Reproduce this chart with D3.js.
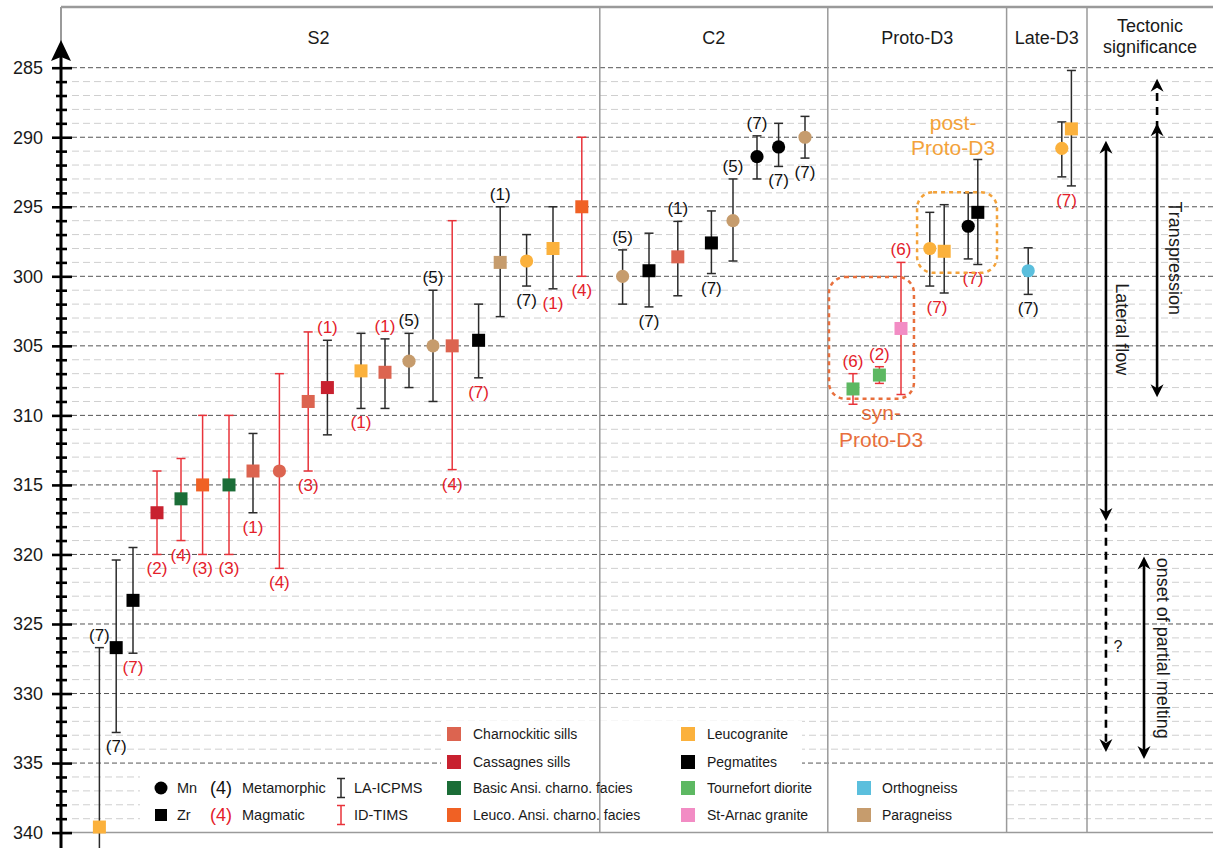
<!DOCTYPE html>
<html><head><meta charset="utf-8">
<script src="https://cdn.jsdelivr.net/npm/d3@7"></script>
<style>
html,body{margin:0;padding:0;background:#fff;}
svg{display:block;font-family:"Liberation Sans",Arial,Helvetica,sans-serif;}
</style>
</head><body>
<svg id="chart" width="1213" height="848"></svg>
<script>
// ---------------- DATA ----------------
const groupNames = ["S2", "C2", "Proto-D3", "Late-D3"];
const groupEdges = [0, 22.45, 31.95, 39.4, 42.75];   // sample-slot boundaries
const tectonicTitle = ["Tectonic", "significance"];
const ageTicks = [285, 290, 295, 300, 305, 310, 315, 320, 325, 330, 335, 340];

// one entry per analysed sample (left to right)
const sampleSlot = [1.6, 2.3, 3.0, 4.0, 5.0, 5.9, 7.0, 8.0, 9.1, 10.3, 11.1, 12.5, 13.5, 14.5, 15.5, 16.3, 17.4, 18.3, 19.4, 20.5, 21.7,
  23.4, 24.5, 25.7, 27.1, 28.0, 29.0, 29.9, 31.0,
  33.0, 34.1, 35.0, 36.2, 36.8, 37.8, 38.2,
  40.3, 41.7, 42.1];
const sampleRock = ["Leucogranite", "Pegmatites", "Pegmatites", "Cassagnes sills", "Basic Ansi. charno. facies", "Leuco. Ansi. charno. facies",
  "Basic Ansi. charno. facies", "Charnockitic sills", "Charnockitic sills", "Charnockitic sills", "Cassagnes sills", "Leucogranite",
  "Charnockitic sills", "Paragneiss", "Paragneiss", "Charnockitic sills", "Pegmatites", "Paragneiss", "Leucogranite", "Leucogranite",
  "Leuco. Ansi. charno. facies",
  "Paragneiss", "Pegmatites", "Charnockitic sills", "Pegmatites", "Paragneiss", "Pegmatites", "Pegmatites", "Paragneiss",
  "Tournefort diorite", "Tournefort diorite", "St-Arnac granite", "Leucogranite", "Leucogranite", "Pegmatites", "Pegmatites",
  "Orthogneiss", "Leucogranite", "Leucogranite"];
const sampleMineral = ["Zr", "Zr", "Zr", "Zr", "Zr", "Zr", "Zr", "Zr", "Mn", "Zr", "Zr", "Zr", "Zr", "Mn", "Mn", "Zr", "Zr", "Zr", "Mn", "Zr", "Zr",
  "Mn", "Zr", "Zr", "Zr", "Mn", "Mn", "Mn", "Mn",
  "Zr", "Zr", "Zr", "Mn", "Zr", "Mn", "Zr",
  "Mn", "Mn", "Zr"];
const sampleAge = [339.6, 326.7, 323.3, 317.0, 316.0, 315.0, 315.0, 314.0, 314.0, 309.0, 308.0, 306.8, 306.9, 306.1, 305.0, 305.0, 304.6, 299.0, 298.9, 298.0, 295.0,
  300.0, 299.6, 298.6, 297.6, 296.0, 291.4, 290.7, 290.0,
  308.1, 307.1, 303.75, 298.0, 298.2, 296.4, 295.4,
  299.6, 290.8, 289.4];
const ageYoungBound = [326.7, 320.4, 319.5, 314.0, 313.1, 310.0, 310.0, 311.3, 307.0, 304.0, 304.6, 304.1, 304.5, 304.1, 301.0, 296.0, 302.0, 295.0, 297.0, 295.0, 290.0,
  298.1, 296.9, 296.05, 295.3, 293.0, 289.9, 289.0, 288.5,
  307.0, 306.5, 299.0, 295.4, 294.85, 294.0, 291.6,
  297.95, 288.9, 285.2];
const ageOldBound = [353.0, 332.8, 327.1, 320.0, 319.0, 320.0, 320.0, 317.0, 321.0, 314.0, 311.4, 309.5, 309.5, 308.0, 309.0, 313.9, 307.3, 302.9, 300.7, 300.9, 300.0,
  302.0, 302.2, 301.4, 299.8, 298.9, 293.0, 292.1, 291.5,
  309.2, 307.7, 308.5, 300.7, 301.2, 298.75, 299.15,
  301.3, 292.85, 293.5];
const sampleMethod = ["LA", "LA", "LA", "TIMS", "TIMS", "TIMS", "TIMS", "LA", "TIMS", "TIMS", "LA", "LA", "LA", "LA", "LA", "TIMS", "LA", "LA", "LA", "LA", "TIMS",
  "LA", "LA", "LA", "LA", "LA", "LA", "LA", "LA",
  "TIMS", "TIMS", "TIMS", "LA", "LA", "LA", "LA",
  "LA", "LA", "LA"];
const sampleRef = [7, 7, 7, 2, 4, 3, 3, 1, 4, 3, 1, 1, 1, 5, 5, 4, 7, 1, 7, 1, 4,
  5, 7, 1, 7, 5, 7, 7, 7,
  6, 2, 6, null, 7, null, 7,
  7, null, 7];
const sampleRefKind = ["meta", "meta", "mag", "mag", "mag", "mag", "mag", "mag", "mag", "mag", "mag", "mag", "mag", "meta", "meta", "mag", "mag", "meta", "meta", "mag", "mag",
  "meta", "meta", "meta", "meta", "meta", "meta", "meta", "meta",
  "mag", "mag", "mag", null, "mag", null, "mag",
  "meta", null, "mag"];
const sampleRefSide = ["above", "below", "below", "below", "below", "below", "below", "below", "below", "below", "above", "below", "above", "above", "above", "below", "below", "above", "below", "below", "below",
  "above", "below", "above", "below", "above", "above", "below", "below",
  "above", "above", "above", null, "pair", null, "pair",
  "below", null, "pair"];

// phase annotations (data units: slot / age)
const phaseBoxes = [
  {lines: ["post-", "Proto-D3"], slot0: 35.67, slot1: 39.0, age0: 293.95, age1: 299.75, textSlot: 37.17, textAge: [289.5, 291.3], kind: "post"},
  {lines: ["syn-", "Proto-D3"], slot0: 32.0, slot1: 35.54, age0: 300.05, age1: 308.8, textSlot: 34.17, textAge: [310.35, 312.25], kind: "syn"}
];

// tectonic significance column
const tectArrows = [
  {slot: 43.54, from: 290.25, to: 317.6, dashed: false, heads: ["from", "to"]},
  {slot: 43.54, from: 317.8, to: 334.2, dashed: true, heads: ["to"]},
  {slot: 45.67, from: 289.4, to: 285.8, dashed: true, heads: ["to"]},
  {slot: 45.67, from: 289.0, to: 308.7, dashed: false, heads: ["from", "to"]},
  {slot: 45.125, from: 320.15, to: 334.7, dashed: false, heads: ["from", "to"]}
];
const tectTexts = [
  {text: "Lateral flow", slot: 44.19, age: 303.8},
  {text: "Transpression", slot: 46.4, age: 298.7},
  {text: "onset of partial melting", slot: 45.92, age: 326.75}
];
const tectQuestion = {text: "?", slot: 43.85, age: 327.0};

// legend content
const legendCol1 = ["Charnockitic sills", "Cassagnes sills", "Basic Ansi. charno. facies", "Leuco. Ansi. charno. facies"];
const legendCol2 = ["Leucogranite", "Pegmatites", "Tournefort diorite", "St-Arnac granite"];
const legendCol3 = ["Orthogneiss", "Paragneiss"];
const legendMinerals = ["Mn", "Zr"];
const legendRefKinds = ["Metamorphic", "Magmatic"];
const legendMethods = ["LA-ICPMS", "ID-TIMS"];

// ---------------- STYLES ----------------
const rockColor = {
  "Charnockitic sills": "#dc6450",
  "Cassagnes sills": "#c8212f",
  "Basic Ansi. charno. facies": "#1b6d37",
  "Leuco. Ansi. charno. facies": "#f06124",
  "Leucogranite": "#fbb13c",
  "Pegmatites": "#000000",
  "Tournefort diorite": "#5db862",
  "St-Arnac granite": "#f28cc4",
  "Orthogneiss": "#5bbfdd",
  "Paragneiss": "#c69c6d"
};
const methodColor = {LA: "#2b2b2b", TIMS: "#e8333a"};
const refColor = {meta: "#111", mag: "#e4202a"};
const phaseColor = {post: "#f3a23a", syn: "#e86f3c"};

// ---------------- DRAW ----------------
const W = 1213, H = 848;
const svg = d3.select("#chart");
const x = d3.scaleLinear().domain([0, 48]).range([61, 1213]);
const y = d3.scaleLinear().domain([285, 340]).range([67.7, 832.6]);

svg.append("rect").attr("width", W).attr("height", H).attr("fill", "#fff");

// grid
const gridVals = d3.range(285, 340);
svg.append("g").selectAll("line").data(gridVals).join("line")
  .attr("x1", 72).attr("x2", W)
  .attr("y1", d => y(d)).attr("y2", d => y(d))
  .attr("stroke", d => d % 5 === 0 ? "#555" : "#cfcfcf")
  .attr("stroke-width", 1)
  .attr("stroke-dasharray", d => d % 5 === 0 ? "5,3" : "7,4");

// white legend backgrounds
const bg = svg.append("g").attr("fill", "#fff");
bg.append("rect").attr("x", 140).attr("y", y(335) + 4).attr("width", 301).attr("height", y(340) - y(335) - 4);
bg.append("rect").attr("x", 441).attr("y", 721).attr("width", 361).attr("height", y(340) - 721);
bg.append("rect").attr("x", 802).attr("y", y(335) + 4).attr("width", 203).attr("height", y(340) - y(335) - 4);

// frame and column separators
const frame = svg.append("g").attr("stroke", "#9a9a9a").attr("fill", "none");
frame.append("line").attr("x1", 61).attr("x2", W).attr("y1", 7).attr("y2", 7).attr("stroke-width", 2.5);
frame.append("line").attr("x1", 61).attr("x2", 61).attr("y1", 7).attr("y2", 42).attr("stroke-width", 2);
frame.append("line").attr("x1", 61).attr("x2", W).attr("y1", y(340)).attr("y2", y(340)).attr("stroke-width", 1.5);
frame.selectAll("line.sep").data(groupEdges.slice(1)).join("line").attr("class", "sep")
  .attr("x1", d => x(d)).attr("x2", d => x(d)).attr("y1", 7).attr("y2", y(340))
  .attr("stroke-width", 1.5);

// headers
const headers = svg.append("g").attr("font-size", 18).attr("fill", "#1a1a1a").attr("text-anchor", "middle");
headers.selectAll("text.h").data(groupNames).join("text").attr("class", "h")
  .attr("x", (d, i) => x((groupEdges[i] + groupEdges[i + 1]) / 2) - (i === 0 ? 12 : 0))
  .attr("y", 43.5).text(d => d);
headers.selectAll("text.t").data(tectonicTitle).join("text").attr("class", "t")
  .attr("x", x((groupEdges[4] + 48) / 2)).attr("y", (d, i) => 32 + i * 21).text(d => d);

// samples
const samples = sampleSlot.map((s, i) => ({
  i, slot: s, rock: sampleRock[i], mineral: sampleMineral[i], age: sampleAge[i],
  young: ageYoungBound[i], old: ageOldBound[i], method: sampleMethod[i],
  ref: sampleRef[i], kind: sampleRefKind[i], side: sampleRefSide[i]
}));

// error bars
const eb = svg.append("g").attr("fill", "none").attr("stroke-width", 1.5);
samples.forEach(d => {
  const g = eb.append("g").attr("stroke", methodColor[d.method]);
  const cx = x(d.slot);
  g.append("line").attr("x1", cx).attr("x2", cx).attr("y1", y(d.young)).attr("y2", y(d.old));
  [d.young, d.old].forEach(v => g.append("line").attr("x1", cx - 4.5).attr("x2", cx + 4.5).attr("y1", y(v)).attr("y2", y(v)));
});

// markers
const mk = svg.append("g");
const S = 13;
mk.selectAll("rect").data(samples.filter(d => d.mineral === "Zr")).join("rect")
  .attr("x", d => x(d.slot) - S / 2).attr("y", d => y(d.age) - S / 2)
  .attr("width", S).attr("height", S).attr("fill", d => rockColor[d.rock]);
mk.selectAll("circle").data(samples.filter(d => d.mineral === "Mn")).join("circle")
  .attr("cx", d => x(d.slot)).attr("cy", d => y(d.age)).attr("r", 6.6)
  .attr("fill", d => rockColor[d.rock]);

// reference labels
const lab = svg.append("g").attr("font-size", 17).attr("text-anchor", "middle");
samples.filter(d => d.ref !== null).forEach(d => {
  let lx = x(d.slot), ly;
  if (d.side === "above") ly = y(d.young) - 7;
  else ly = y(d.old) + 20;
  if (d.side === "pair") lx = (x(d.slot) + x(sampleSlot[d.i - 1])) / 2;
  lab.append("text").attr("x", lx).attr("y", ly).attr("fill", refColor[d.kind]).text(`(${d.ref})`);
});

// phase boxes
const pb = svg.append("g");
phaseBoxes.forEach(b => {
  pb.append("rect")
    .attr("x", x(b.slot0)).attr("y", y(b.age0))
    .attr("width", x(b.slot1) - x(b.slot0)).attr("height", y(b.age1) - y(b.age0))
    .attr("rx", 16).attr("ry", 16).attr("fill", "none")
    .attr("stroke", phaseColor[b.kind]).attr("stroke-width", 2.5).attr("stroke-dasharray", "4,4");
  b.lines.forEach((t, k) => pb.append("text").attr("x", x(b.textSlot)).attr("y", y(b.textAge[k]))
    .attr("text-anchor", "middle").attr("font-size", 21).attr("fill", phaseColor[b.kind]).text(t));
});

// tectonic arrows
const ta = svg.append("g");
function head(cx, tipY, dir) { // dir -1 pointing up, +1 pointing down
  const L = 13, hw = 6.5;
  ta.append("path").attr("d", `M${cx},${tipY} L${cx - hw},${tipY - dir * L} L${cx},${tipY - dir * (L - 4)} L${cx + hw},${tipY - dir * L} Z`).attr("fill", "#000");
}
tectArrows.forEach(a => {
  const cx = x(a.slot), y0 = y(a.from), y1 = y(a.to);
  const dir = y1 > y0 ? 1 : -1;
  const inset0 = a.heads.includes("from") ? 8 : 0, inset1 = a.heads.includes("to") ? 8 : 0;
  ta.append("line").attr("x1", cx).attr("x2", cx)
    .attr("y1", y0 + dir * inset0).attr("y2", y1 - dir * inset1)
    .attr("stroke", "#000").attr("stroke-width", 2.6)
    .attr("stroke-dasharray", a.dashed ? "8,6" : null);
  if (a.heads.includes("to")) head(cx, y1, dir);
  if (a.heads.includes("from")) head(cx, y0, -dir);
});
tectTexts.forEach(t => {
  ta.append("text").attr("transform", `translate(${x(t.slot)},${y(t.age)}) rotate(90)`)
    .attr("text-anchor", "middle").attr("dominant-baseline", "central")
    .attr("font-size", 18).attr("fill", "#1a1a1a").text(t.text);
});
ta.append("text").attr("x", x(tectQuestion.slot)).attr("y", y(tectQuestion.age))
  .attr("font-size", 16).attr("fill", "#1a1a1a").text(tectQuestion.text);

// legend - rock types
const lg = svg.append("g").attr("font-size", 14).attr("fill", "#1a1a1a");
const rowY = [734, 762, 788, 815];
function legendColumn(items, sx, tx, rows) {
  items.forEach((name, k) => {
    const ry = rowY[rows[k]];
    lg.append("rect").attr("x", sx).attr("y", ry - 7).attr("width", 14).attr("height", 14).attr("fill", rockColor[name]);
    lg.append("text").attr("x", tx).attr("y", ry).attr("dominant-baseline", "central").text(name);
  });
}
legendColumn(legendCol1, 447, 473, [0, 1, 2, 3]);
legendColumn(legendCol2, 681, 707, [0, 1, 2, 3]);
legendColumn(legendCol3, 857, 882, [2, 3]);

// legend - symbols
const ls = svg.append("g").attr("fill", "#1a1a1a");
ls.append("circle").attr("cx", 161).attr("cy", rowY[2]).attr("r", 6.5).attr("fill", "#000");
ls.append("rect").attr("x", 155).attr("y", rowY[3] - 6).attr("width", 12).attr("height", 12).attr("fill", "#000");
legendMinerals.forEach((t, k) => ls.append("text").attr("x", 177).attr("y", rowY[2 + k]).attr("dominant-baseline", "central").attr("font-size", 14.5).text(t));
["meta", "mag"].forEach((kd, k) => ls.append("text").attr("x", 221).attr("y", rowY[2 + k]).attr("dominant-baseline", "central")
  .attr("text-anchor", "middle").attr("font-size", 18).attr("fill", refColor[kd]).text("(4)"));
legendRefKinds.forEach((t, k) => ls.append("text").attr("x", 242).attr("y", rowY[2 + k]).attr("dominant-baseline", "central").attr("font-size", 14.5).text(t));
["LA", "TIMS"].forEach((m, k) => {
  const g = ls.append("g").attr("stroke", methodColor[m]).attr("stroke-width", 1.5);
  const cy = rowY[2 + k], hh = 9.5;
  g.append("line").attr("x1", 341).attr("x2", 341).attr("y1", cy - hh).attr("y2", cy + hh);
  g.append("line").attr("x1", 337).attr("x2", 345).attr("y1", cy - hh).attr("y2", cy - hh);
  g.append("line").attr("x1", 337).attr("x2", 345).attr("y1", cy + hh).attr("y2", cy + hh);
});
legendMethods.forEach((t, k) => ls.append("text").attr("x", 354).attr("y", rowY[2 + k]).attr("dominant-baseline", "central").attr("font-size", 14.5).text(t));

// y axis
const axisG = svg.append("g").attr("transform", "translate(61,0)");
axisG.call(d3.axisLeft(y).tickValues(d3.range(285, 341)).tickFormat(d => d % 5 === 0 ? d : "").tickSize(0).tickPadding(18));
axisG.select(".domain").remove();
axisG.selectAll(".tick line")
  .attr("x1", d => d % 5 === 0 ? -9 : -5).attr("x2", d => d % 5 === 0 ? 11 : 6)
  .attr("stroke", "#000").attr("stroke-width", 2.6);
axisG.selectAll(".tick text").attr("font-size", 18).attr("fill", "#1a1a1a").attr("font-family", "'Liberation Sans',Arial,sans-serif");
axisG.append("line").attr("x1", 0).attr("x2", 0).attr("y1", 55).attr("y2", H).attr("stroke", "#000").attr("stroke-width", 3);
axisG.append("path").attr("d", "M0,40 L-10,61 L0,57 L10,61 Z").attr("fill", "#000");
</script>
</body></html>
